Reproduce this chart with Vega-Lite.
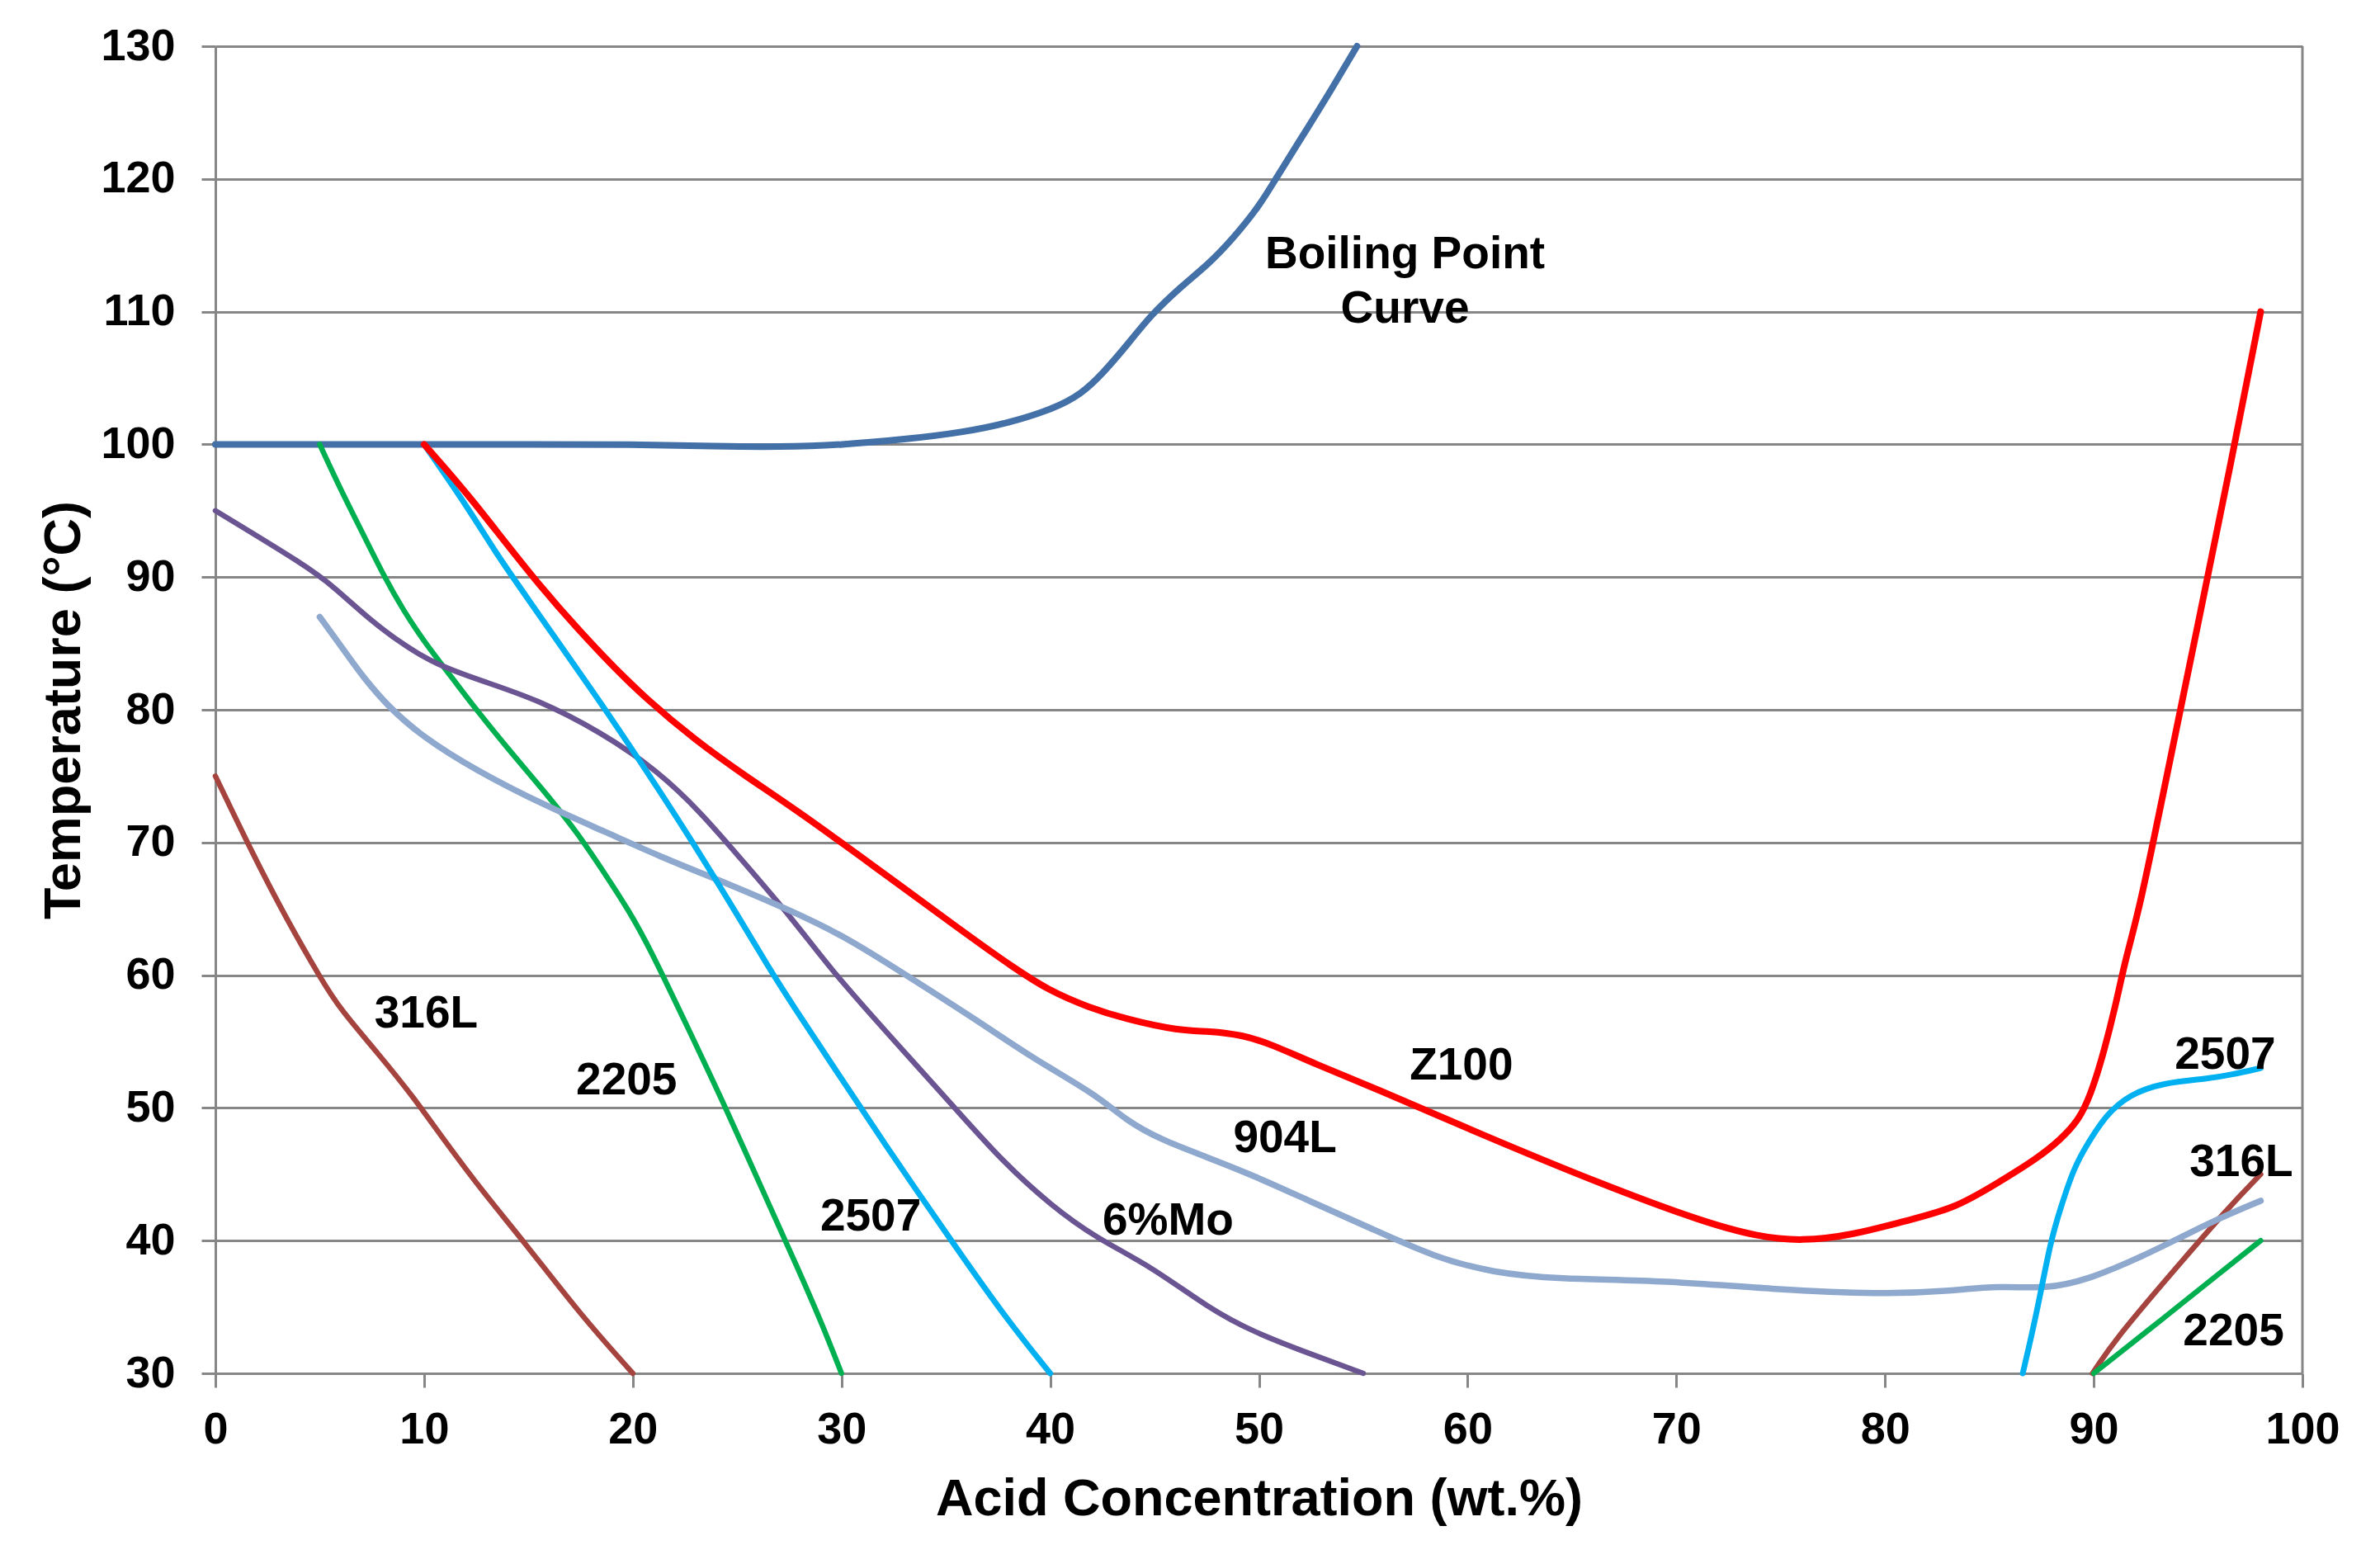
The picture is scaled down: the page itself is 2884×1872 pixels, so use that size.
{
  "$schema": "https://vega.github.io/schema/vega-lite/v6.json",
  "width": 2529,
  "height": 1608,
  "autosize": "none",
  "padding": {"left": 261, "top": 56, "right": 94, "bottom": 208},
  "background": "white",
  "config": {"view": {"stroke": null}, "font": "Liberation Sans"},
  "datasets": {
    "curves": [
      {"series": "BP", "conc": 0, "temp": 100},
      {"series": "BP", "conc": 5, "temp": 100},
      {"series": "BP", "conc": 10, "temp": 100},
      {"series": "BP", "conc": 15, "temp": 100},
      {"series": "BP", "conc": 20, "temp": 100},
      {"series": "BP", "conc": 24, "temp": 99.85},
      {"series": "BP", "conc": 27, "temp": 99.8},
      {"series": "BP", "conc": 30, "temp": 99.95},
      {"series": "BP", "conc": 33.2, "temp": 100.4},
      {"series": "BP", "conc": 35.8, "temp": 100.9},
      {"series": "BP", "conc": 38, "temp": 101.6},
      {"series": "BP", "conc": 40.2, "temp": 102.7},
      {"series": "BP", "conc": 41.5, "temp": 103.8},
      {"series": "BP", "conc": 42.5, "temp": 105.3},
      {"series": "BP", "conc": 43.8, "temp": 107.7},
      {"series": "BP", "conc": 44.8, "temp": 109.7},
      {"series": "BP", "conc": 46.2, "temp": 111.8},
      {"series": "BP", "conc": 47.6, "temp": 113.6},
      {"series": "BP", "conc": 48.7, "temp": 115.4},
      {"series": "BP", "conc": 50, "temp": 117.9},
      {"series": "BP", "conc": 50.8, "temp": 120},
      {"series": "BP", "conc": 52.2, "temp": 123.5},
      {"series": "BP", "conc": 53.5, "temp": 126.8},
      {"series": "BP", "conc": 54.7, "temp": 130},

      {"series": "316L_a", "conc": 0, "temp": 75},
      {"series": "316L_a", "conc": 1.8, "temp": 69.1},
      {"series": "316L_a", "conc": 3.35, "temp": 64.4},
      {"series": "316L_a", "conc": 5.1, "temp": 59.6},
      {"series": "316L_a", "conc": 6, "temp": 57.4},
      {"series": "316L_a", "conc": 7.8, "temp": 54.1},
      {"series": "316L_a", "conc": 9.5, "temp": 50.8},
      {"series": "316L_a", "conc": 10.9, "temp": 47.7},
      {"series": "316L_a", "conc": 12.9, "temp": 43.5},
      {"series": "316L_a", "conc": 14.8, "temp": 39.9},
      {"series": "316L_a", "conc": 17.5, "temp": 34.4},
      {"series": "316L_a", "conc": 20, "temp": 30},

      {"series": "316L_b", "conc": 89.94, "temp": 30},
      {"series": "316L_b", "conc": 91.05, "temp": 32.6},
      {"series": "316L_b", "conc": 93.7, "temp": 37.5},
      {"series": "316L_b", "conc": 96.4, "temp": 42.4},
      {"series": "316L_b", "conc": 98, "temp": 45},

      {"series": "2205_a", "conc": 5, "temp": 100},
      {"series": "2205_a", "conc": 6, "temp": 96.6},
      {"series": "2205_a", "conc": 7.06, "temp": 93.3},
      {"series": "2205_a", "conc": 8.1, "temp": 90},
      {"series": "2205_a", "conc": 9, "temp": 87.5},
      {"series": "2205_a", "conc": 10.06, "temp": 85},
      {"series": "2205_a", "conc": 11.3, "temp": 82.5},
      {"series": "2205_a", "conc": 12.5, "temp": 80},
      {"series": "2205_a", "conc": 14.1, "temp": 76.9},
      {"series": "2205_a", "conc": 16.06, "temp": 73.3},
      {"series": "2205_a", "conc": 17.4, "temp": 70.6},
      {"series": "2205_a", "conc": 18.6, "temp": 67.8},
      {"series": "2205_a", "conc": 19.8, "temp": 64.9},
      {"series": "2205_a", "conc": 20.8, "temp": 62.1},
      {"series": "2205_a", "conc": 22.8, "temp": 55.5},
      {"series": "2205_a", "conc": 24.4, "temp": 50.2},
      {"series": "2205_a", "conc": 26.5, "temp": 42.8},
      {"series": "2205_a", "conc": 28, "temp": 37.6},
      {"series": "2205_a", "conc": 29.1, "temp": 33.6},
      {"series": "2205_a", "conc": 30, "temp": 30},

      {"series": "2205_b", "conc": 90, "temp": 30},
      {"series": "2205_b", "conc": 93.3, "temp": 34.1},
      {"series": "2205_b", "conc": 96, "temp": 37.5},
      {"series": "2205_b", "conc": 98, "temp": 40},

      {"series": "6Mo", "conc": 0, "temp": 95},
      {"series": "6Mo", "conc": 4.4, "temp": 90.8},
      {"series": "6Mo", "conc": 5.65, "temp": 89.3},
      {"series": "6Mo", "conc": 7.6, "temp": 86.5},
      {"series": "6Mo", "conc": 9.2, "temp": 84.7},
      {"series": "6Mo", "conc": 10.6, "temp": 83.4},
      {"series": "6Mo", "conc": 12.7, "temp": 82.2},
      {"series": "6Mo", "conc": 15.4, "temp": 80.8},
      {"series": "6Mo", "conc": 18.5, "temp": 78.3},
      {"series": "6Mo", "conc": 21.2, "temp": 75.4},
      {"series": "6Mo", "conc": 23.3, "temp": 72.2},
      {"series": "6Mo", "conc": 25.1, "temp": 68.9},
      {"series": "6Mo", "conc": 27.68, "temp": 64.2},
      {"series": "6Mo", "conc": 29.45, "temp": 60.5},
      {"series": "6Mo", "conc": 32.1, "temp": 55.8},
      {"series": "6Mo", "conc": 35.6, "temp": 49.7},
      {"series": "6Mo", "conc": 37.7, "temp": 46},
      {"series": "6Mo", "conc": 40, "temp": 42.7},
      {"series": "6Mo", "conc": 42.2, "temp": 40.2},
      {"series": "6Mo", "conc": 44.8, "temp": 38.1},
      {"series": "6Mo", "conc": 47.6, "temp": 34.9},
      {"series": "6Mo", "conc": 49.75, "temp": 33.1},
      {"series": "6Mo", "conc": 52.4, "temp": 31.5},
      {"series": "6Mo", "conc": 55, "temp": 30},

      {"series": "904L", "conc": 5, "temp": 87},
      {"series": "904L", "conc": 6.2, "temp": 84.4},
      {"series": "904L", "conc": 7.06, "temp": 82.5},
      {"series": "904L", "conc": 8.3, "temp": 80.2},
      {"series": "904L", "conc": 9.9, "temp": 78},
      {"series": "904L", "conc": 12.4, "temp": 75.5},
      {"series": "904L", "conc": 15.9, "temp": 72.7},
      {"series": "904L", "conc": 18.7, "temp": 70.8},
      {"series": "904L", "conc": 21.2, "temp": 69},
      {"series": "904L", "conc": 24.7, "temp": 66.8},
      {"series": "904L", "conc": 27.68, "temp": 64.8},
      {"series": "904L", "conc": 30.3, "temp": 62.8},
      {"series": "904L", "conc": 33, "temp": 60.1},
      {"series": "904L", "conc": 36.5, "temp": 56.6},
      {"series": "904L", "conc": 39.2, "temp": 53.7},
      {"series": "904L", "conc": 42.2, "temp": 51},
      {"series": "904L", "conc": 43.6, "temp": 49.1},
      {"series": "904L", "conc": 45.3, "temp": 47.6},
      {"series": "904L", "conc": 47.5, "temp": 46.3},
      {"series": "904L", "conc": 49.75, "temp": 44.9},
      {"series": "904L", "conc": 52.4, "temp": 43},
      {"series": "904L", "conc": 55.4, "temp": 40.9},
      {"series": "904L", "conc": 58.5, "temp": 38.7},
      {"series": "904L", "conc": 61.2, "temp": 37.6},
      {"series": "904L", "conc": 64.2, "temp": 37.1},
      {"series": "904L", "conc": 69.5, "temp": 37},
      {"series": "904L", "conc": 74.8, "temp": 36.3},
      {"series": "904L", "conc": 79.8, "temp": 35.95},
      {"series": "904L", "conc": 83, "temp": 36.2},
      {"series": "904L", "conc": 85.5, "temp": 36.6},
      {"series": "904L", "conc": 87.7, "temp": 36.35},
      {"series": "904L", "conc": 89.7, "temp": 37.05},
      {"series": "904L", "conc": 92.2, "temp": 38.7},
      {"series": "904L", "conc": 94.6, "temp": 40.6},
      {"series": "904L", "conc": 96.4, "temp": 41.95},
      {"series": "904L", "conc": 98, "temp": 43},

      {"series": "2507_a", "conc": 10, "temp": 100},
      {"series": "2507_a", "conc": 12.2, "temp": 95},
      {"series": "2507_a", "conc": 13.4, "temp": 91.9},
      {"series": "2507_a", "conc": 15, "temp": 88.3},
      {"series": "2507_a", "conc": 17, "temp": 83.8},
      {"series": "2507_a", "conc": 18.7, "temp": 80},
      {"series": "2507_a", "conc": 21.2, "temp": 74.1},
      {"series": "2507_a", "conc": 23, "temp": 69.7},
      {"series": "2507_a", "conc": 25.07, "temp": 64.4},
      {"series": "2507_a", "conc": 26.5, "temp": 60.6},
      {"series": "2507_a", "conc": 27.68, "temp": 57.7},
      {"series": "2507_a", "conc": 29.45, "temp": 53.5},
      {"series": "2507_a", "conc": 32.1, "temp": 47.2},
      {"series": "2507_a", "conc": 35.3, "temp": 39.9},
      {"series": "2507_a", "conc": 37.9, "temp": 34.1},
      {"series": "2507_a", "conc": 40, "temp": 30},

      {"series": "2507_b", "conc": 86.6, "temp": 30},
      {"series": "2507_b", "conc": 87.26, "temp": 34.45},
      {"series": "2507_b", "conc": 87.93, "temp": 39.96},
      {"series": "2507_b", "conc": 88.4, "temp": 42.4},
      {"series": "2507_b", "conc": 89.05, "temp": 45.5},
      {"series": "2507_b", "conc": 89.7, "temp": 47.3},
      {"series": "2507_b", "conc": 90.6, "temp": 49.5},
      {"series": "2507_b", "conc": 91.7, "temp": 51},
      {"series": "2507_b", "conc": 93.3, "temp": 51.9},
      {"series": "2507_b", "conc": 95.5, "temp": 52.2},
      {"series": "2507_b", "conc": 96.6, "temp": 52.5},
      {"series": "2507_b", "conc": 98, "temp": 53},

      {"series": "Z100", "conc": 10, "temp": 100},
      {"series": "Z100", "conc": 12.2, "temp": 96.1},
      {"series": "Z100", "conc": 15.5, "temp": 89.3},
      {"series": "Z100", "conc": 18.7, "temp": 83.8},
      {"series": "Z100", "conc": 20.65, "temp": 80.8},
      {"series": "Z100", "conc": 23, "temp": 77.7},
      {"series": "Z100", "conc": 25.4, "temp": 75},
      {"series": "Z100", "conc": 27.7, "temp": 72.6},
      {"series": "Z100", "conc": 31.4, "temp": 68.4},
      {"series": "Z100", "conc": 35.8, "temp": 63.3},
      {"series": "Z100", "conc": 38.3, "temp": 60.5},
      {"series": "Z100", "conc": 40, "temp": 58.8},
      {"series": "Z100", "conc": 41.8, "temp": 57.6},
      {"series": "Z100", "conc": 43.6, "temp": 56.7},
      {"series": "Z100", "conc": 46.2, "temp": 55.8},
      {"series": "Z100", "conc": 47.6, "temp": 55.8},
      {"series": "Z100", "conc": 49.2, "temp": 55.5},
      {"series": "Z100", "conc": 50.6, "temp": 54.8},
      {"series": "Z100", "conc": 52.7, "temp": 53.3},
      {"series": "Z100", "conc": 55.4, "temp": 51.6},
      {"series": "Z100", "conc": 60.65, "temp": 48},
      {"series": "Z100", "conc": 66.65, "temp": 44.1},
      {"series": "Z100", "conc": 71.3, "temp": 41.4},
      {"series": "Z100", "conc": 73.9, "temp": 40.3},
      {"series": "Z100", "conc": 76, "temp": 39.95},
      {"series": "Z100", "conc": 78.4, "temp": 40.4},
      {"series": "Z100", "conc": 81, "temp": 41.5},
      {"series": "Z100", "conc": 83.3, "temp": 42.4},
      {"series": "Z100", "conc": 85.3, "temp": 44.25},
      {"series": "Z100", "conc": 87.3, "temp": 46.2},
      {"series": "Z100", "conc": 88.4, "temp": 47.6},
      {"series": "Z100", "conc": 89.3, "temp": 49.1},
      {"series": "Z100", "conc": 89.85, "temp": 51},
      {"series": "Z100", "conc": 90.4, "temp": 53.7},
      {"series": "Z100", "conc": 91.05, "temp": 57.7},
      {"series": "Z100", "conc": 91.5, "temp": 61.1},
      {"series": "Z100", "conc": 92.2, "temp": 65},
      {"series": "Z100", "conc": 93.5, "temp": 75},
      {"series": "Z100", "conc": 95, "temp": 86.5},
      {"series": "Z100", "conc": 96.5, "temp": 98},
      {"series": "Z100", "conc": 98, "temp": 110}
    ],
    "labels": [
      {"label": "Boiling Point", "conc": 57.0, "temp": 114.3},
      {"label": "Curve", "conc": 57.0, "temp": 110.2},
      {"label": "316L", "conc": 10.1, "temp": 57.1},
      {"label": "2205", "conc": 19.7, "temp": 52.1},
      {"label": "2507", "conc": 31.4, "temp": 41.8},
      {"label": "6%Mo", "conc": 45.65, "temp": 41.5},
      {"label": "904L", "conc": 51.25, "temp": 47.7},
      {"label": "Z100", "conc": 59.7, "temp": 53.2},
      {"label": "2507", "conc": 96.3, "temp": 54.0},
      {"label": "316L", "conc": 97.07, "temp": 45.9},
      {"label": "2205", "conc": 96.7, "temp": 33.2}
    ]
  },
  "encoding": {
    "x": {
      "field": "conc", "type": "quantitative",
      "scale": {"domain": [0, 100], "nice": false},
      "axis": {
        "values": [0, 10, 20, 30, 40, 50, 60, 70, 80, 90, 100],
        "title": "Acid Concentration (wt.%)",
        "grid": false,
        "domainColor": "#868686", "domainWidth": 3,
        "tickColor": "#868686", "tickWidth": 3, "tickSize": 17,
        "labelFont": "Liberation Sans", "labelFontWeight": "bold", "labelFontSize": 54, "labelColor": "black",
        "labelPadding": 24, "labelFlush": false, "labelOverlap": false,
        "titleFont": "Liberation Sans", "titleFontWeight": "bold", "titleFontSize": 63, "titleColor": "black",
        "titleY": 152, "titleBaseline": "middle"
      }
    },
    "y": {
      "field": "temp", "type": "quantitative",
      "scale": {"domain": [30, 130], "nice": false},
      "axis": {
        "values": [30, 40, 50, 60, 70, 80, 90, 100, 110, 120, 130],
        "title": "Temperature (°C)",
        "grid": true, "gridColor": "#868686", "gridWidth": 3,
        "domainColor": "#868686", "domainWidth": 3,
        "tickColor": "#868686", "tickWidth": 3, "tickSize": 17,
        "labelFont": "Liberation Sans", "labelFontWeight": "bold", "labelFontSize": 54, "labelColor": "black",
        "labelPadding": 32, "labelFlush": false, "labelOverlap": false,
        "titleFont": "Liberation Sans", "titleFontWeight": "bold", "titleFontSize": 63, "titleColor": "black",
        "titleX": -184, "titleBaseline": "middle"
      }
    },
    "color": {
      "field": "series", "type": "nominal", "legend": null,
      "scale": {
        "domain": ["BP", "316L_a", "316L_b", "2205_a", "2205_b", "6Mo", "904L", "2507_a", "2507_b", "Z100"],
        "range": ["#4470A8", "#A5443E", "#A5443E", "#00B050", "#00B050", "#6A5592", "#8EA8CE", "#00B0F0", "#00B0F0", "#FF0000"]
      }
    }
  },
  "layer": [
    {
      "data": {"values": [{"conc": 100, "series": "edge"}]},
      "mark": {"type": "rule", "color": "#868686", "strokeWidth": 3},
      "encoding": {
        "y": null,
        "color": null
      }
    },
    {
      "data": {"name": "curves"},
      "transform": [{"filter": {"field": "series", "oneOf": ["BP"]}}],
      "mark": {"type": "line", "interpolate": "basis", "strokeCap": "round", "strokeJoin": "round", "strokeWidth": 8}
    },
    {
      "data": {"name": "curves"},
      "transform": [{"filter": {"field": "series", "oneOf": ["316L_a", "316L_b", "2205_a", "2205_b", "6Mo"]}}],
      "mark": {"type": "line", "interpolate": "basis", "strokeCap": "round", "strokeJoin": "round", "strokeWidth": 6.5}
    },
    {
      "data": {"name": "curves"},
      "transform": [{"filter": {"field": "series", "oneOf": ["904L"]}}],
      "mark": {"type": "line", "interpolate": "basis", "strokeCap": "round", "strokeJoin": "round", "strokeWidth": 7.5}
    },
    {
      "data": {"name": "curves"},
      "transform": [{"filter": {"field": "series", "oneOf": ["2507_a", "2507_b"]}}],
      "mark": {"type": "line", "interpolate": "basis", "strokeCap": "round", "strokeJoin": "round", "strokeWidth": 7}
    },
    {
      "data": {"name": "curves"},
      "transform": [{"filter": {"field": "series", "oneOf": ["Z100"]}}],
      "mark": {"type": "line", "interpolate": "basis", "strokeCap": "round", "strokeJoin": "round", "strokeWidth": 8}
    },
    {
      "data": {"name": "labels"},
      "mark": {"type": "text", "font": "Liberation Sans", "fontWeight": "bold", "fontSize": 55, "align": "center", "baseline": "middle", "color": "black"},
      "encoding": {
        "text": {"field": "label", "type": "nominal"},
        "color": null
      }
    }
  ]
}
